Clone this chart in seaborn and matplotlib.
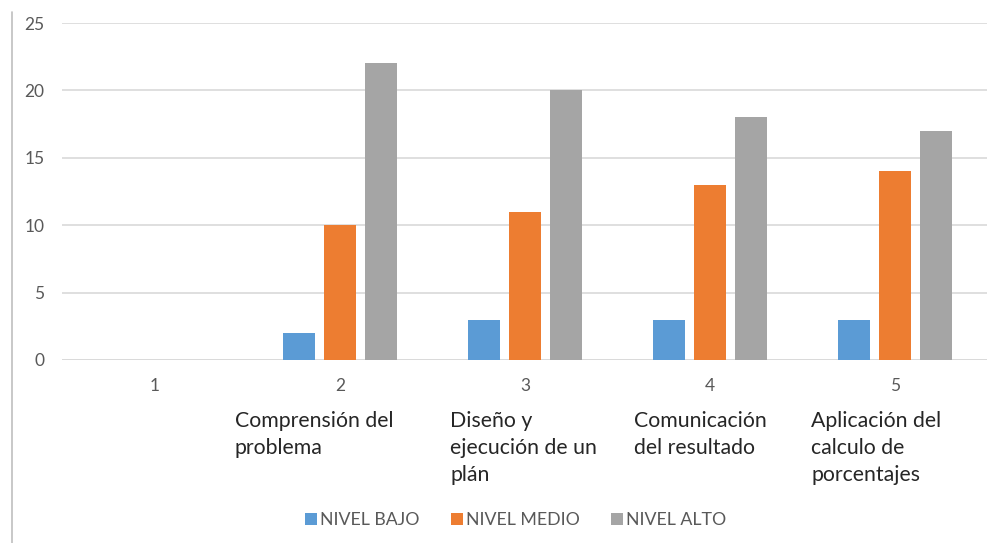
import numpy as np
import pandas as pd
import matplotlib
matplotlib.use("Agg")
import matplotlib.pyplot as plt
import seaborn as sns
from matplotlib.lines import Line2D

# Datos
categorias = ["1", "2", "3", "4", "5"]
descripciones = [
    "",
    "Comprensión del\nproblema",
    "Diseño y\nejecución de un\nplán",
    "Comunicación\ndel resultado",
    "Aplicación del\ncalculo de\nporcentajes",
]
niveles = ["NIVEL BAJO", "NIVEL MEDIO", "NIVEL ALTO"]
nivel_bajo = [0, 2, 3, 3, 3]
nivel_medio = [0, 10, 11, 13, 14]
nivel_alto = [0, 22, 20, 18, 17]

colores = ["#5B9BD5", "#ED7D31", "#A5A5A5"]

filas = []
for nivel, valores in zip(niveles, [nivel_bajo, nivel_medio, nivel_alto]):
    for cat, v in zip(categorias, valores):
        filas.append({"categoria": cat, "nivel": nivel, "valor": v})
df = pd.DataFrame(filas)

sns.set_theme(style="white")
plt.rcParams["font.family"] = ["Lato", "DejaVu Sans"]

fig = plt.figure(figsize=(9.95, 5.43), dpi=100)
ax = fig.add_axes([62.5 / 995, 183 / 543, 925 / 995, 337 / 543])

sns.barplot(
    data=df, x="categoria", y="valor", hue="nivel",
    order=categorias, hue_order=niveles, palette=colores,
    width=0.665, gap=0.22, linewidth=0, saturation=1,
    errorbar=None, ax=ax, legend=False,
)

ax.set_ylim(0, 25)
ax.set_yticks([0, 5, 10, 15, 20, 25])
ax.set_xlim(-0.5, 4.5)
ax.yaxis.grid(True, color="#D9D9D9", linewidth=1.2)
ax.set_axisbelow(True)
for s in ax.spines.values():
    s.set_visible(False)
ax.axhline(0, color="#D9D9D9", linewidth=1.2, zorder=0)
ax.set_xlabel("")
ax.set_ylabel("")
ax.tick_params(axis="both", length=0, labelsize=12.5, labelcolor="#595959")
ax.tick_params(axis="y", pad=13)
ax.tick_params(axis="x", pad=13)

# Texto descriptivo bajo cada número de categoría
desplazamientos = [0, -0.568, -0.405, -0.411, -0.454]
trans = matplotlib.transforms.blended_transform_factory(ax.transData, ax.transAxes)
for i, (texto, dx) in enumerate(zip(descripciones, desplazamientos)):
    if texto:
        ax.text(i + dx, -0.150, texto, transform=trans, ha="left", va="top",
                fontsize=15.3, color="#262626", linespacing=1.45)

# Leyenda inferior
handles = [Line2D([0], [0], marker="s", linestyle="none", markersize=9,
                  markerfacecolor=c, markeredgewidth=0) for c in colores]
fig.legend(handles, niveles, loc="center", bbox_to_anchor=(515 / 995, 23 / 543),
           ncol=3, frameon=False, fontsize=12.8, labelcolor="#595959",
           handletextpad=0.1, columnspacing=1.7, handlelength=0.8)

# Borde izquierdo
fig.add_artist(Line2D([12 / 995, 12 / 995], [0, 1 - 12 / 543],
                      transform=fig.transFigure, color="#BFBFBF", linewidth=1.2))

fig.savefig("out.png", dpi=100)
